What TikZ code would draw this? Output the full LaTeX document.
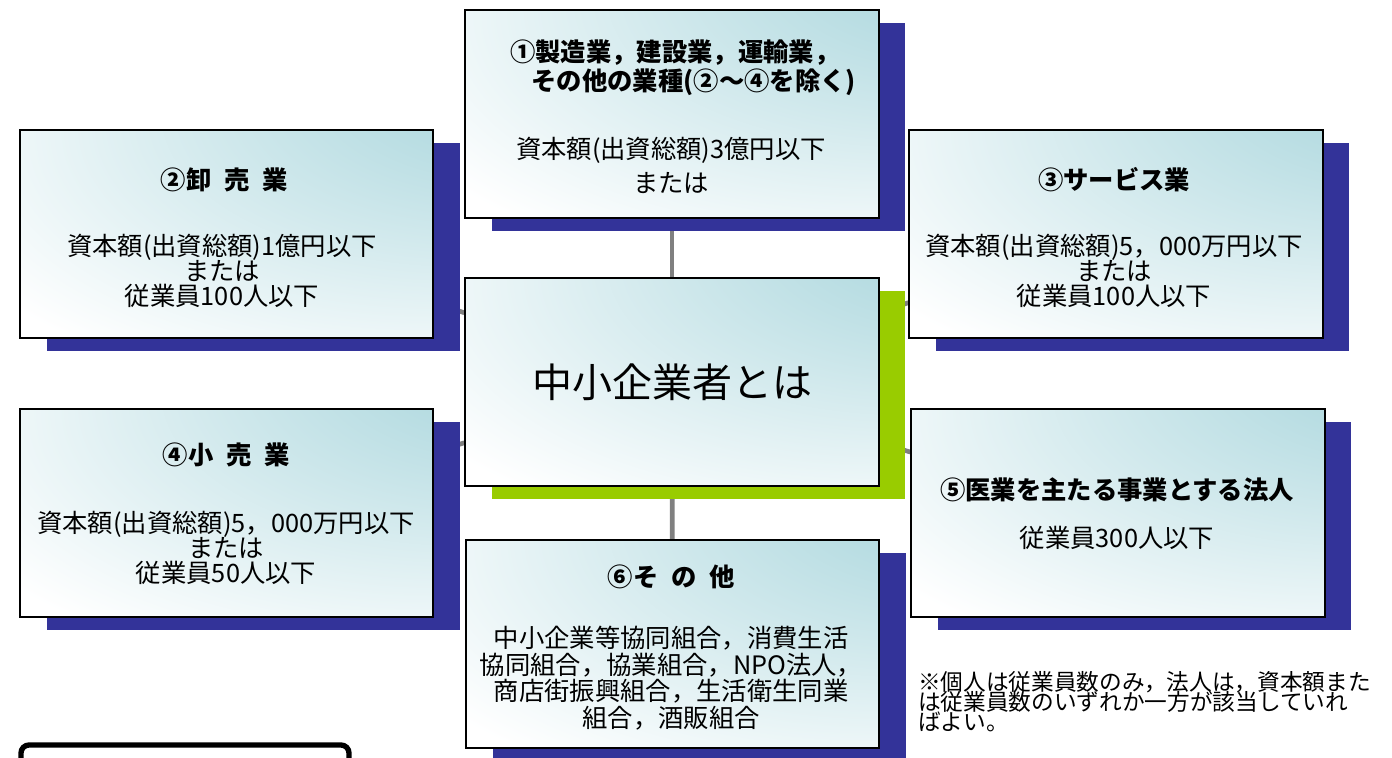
\documentclass[tikz,border=0pt]{standalone}
\usepackage{fontspec}
\setmainfont{Noto Sans CJK JP}
\usetikzlibrary{positioning,shadows,backgrounds}

\definecolor{boxteal}{RGB}{178,218,224}
\definecolor{shadenavy}{RGB}{51,51,153}
\definecolor{shadegreen}{RGB}{153,204,0}
\definecolor{linkgray}{RGB}{128,128,128}
\setlength{\lineskiplimit}{-100pt}
\pgfdeclareradialshading{glow}{\pgfpoint{45bp}{45bp}}{color(0bp)=(boxteal); color(15bp)=(boxteal); color(58bp)=(white); color(100bp)=(white)}

\begin{document}
\begin{tikzpicture}[
  x=0.75pt, y=-0.75pt,
  panel/.style={draw, line width=1.5pt, shading=glow,
    minimum width=310pt, minimum height=156pt, inner sep=0pt},
  box/.style={panel, general shadow={fill=shadenavy, shadow xshift=20pt, shadow yshift=-10pt}},
  hub/.style={panel, general shadow={fill=shadegreen, shadow xshift=20pt, shadow yshift=-10pt}},
  ttl/.style={font=\bfseries\fontsize{19}{#1}\selectfont, align=center, inner sep=0pt},
  ttl/.default=21,
  txt/.style={font=\fontsize{19}{#1}\selectfont, align=center, inner sep=0pt},
  txt/.default=18.5,
  link/.style={draw=linkgray, line width=3.5pt},
  frame/.style={draw, line width=4pt, rounded corners=6pt, minimum width=246pt, minimum height=45pt}
]
\useasboundingbox (0,0) rectangle (1392,757);

% boxes
\node[hub, font=\fontsize{30}{36}\selectfont] (hub) at (672,382) {中小企業者とは};
\node[box] (mfg) at (672,114) {};
\node[box] (whole) at (226.5,233.5) {};
\node[box] (serv) at (1116,233.5) {};
\node[box] (retail) at (226.5,512.5) {};
\node[box] (med) at (1118,512.5) {};
\node[box] (other) at (672.5,644) {};

% texts
\node[ttl=22, align=left, anchor=west] (mfgT) at (510,67.5)
  {①製造業，建設業，運輸業，\\\hspace*{16pt}その他の業種(②～④を除く)};
\node[txt=25.5] (mfgB) at (671,165) {資本額(出資総額)3億円以下\\または};

\node[ttl] (wholeT) at (224,180) {②卸\enspace 売\enspace 業};
\node[txt] (wholeB) at (222,271) {資本額(出資総額)1億円以下\\または\\従業員100人以下};

\node[ttl] (servT) at (1114,180) {③サービス業};
\node[txt] (servB) at (1114,271) {資本額(出資総額)5，000万円以下\\または\\従業員100人以下};

\node[ttl] (retailT) at (226,455) {④小\enspace 売\enspace 業};
\node[txt] (retailB) at (226,548) {資本額(出資総額)5，000万円以下\\または\\従業員50人以下};

\node[ttl] (medT) at (1117,490) {⑤医業を主たる事業とする法人};
\node[txt] (medB) at (1117,538) {従業員300人以下};

\node[ttl] (otherT) at (671,577) {⑥そ\enspace の\enspace 他};
\node[txt=20] (otherB) at (671,678)
  {中小企業等協同組合，消費生活\\協同組合，協業組合，NPO法人，\\商店街振興組合，生活衛生同業\\組合，酒販組合};

% note
\node[font=\fontsize{17}{15}\selectfont, align=left, anchor=west, inner sep=0pt] (memo) at (918,702)
  {※個人は従業員数のみ，法人は，資本額また\\は従業員数のいずれか一方が該当していれ\\ばよい。};

\node[frame] (legend) at (185,775) {};

\begin{scope}[on background layer]
\draw[link] (hub) -- (mfg);
\draw[link] (hub) -- (whole);
\draw[link] (hub) -- (serv);
\draw[link] (hub) -- (retail);
\draw[link] (hub) -- (med);
\draw[link] (hub) -- (other);
\end{scope}
\end{tikzpicture}
\end{document}
